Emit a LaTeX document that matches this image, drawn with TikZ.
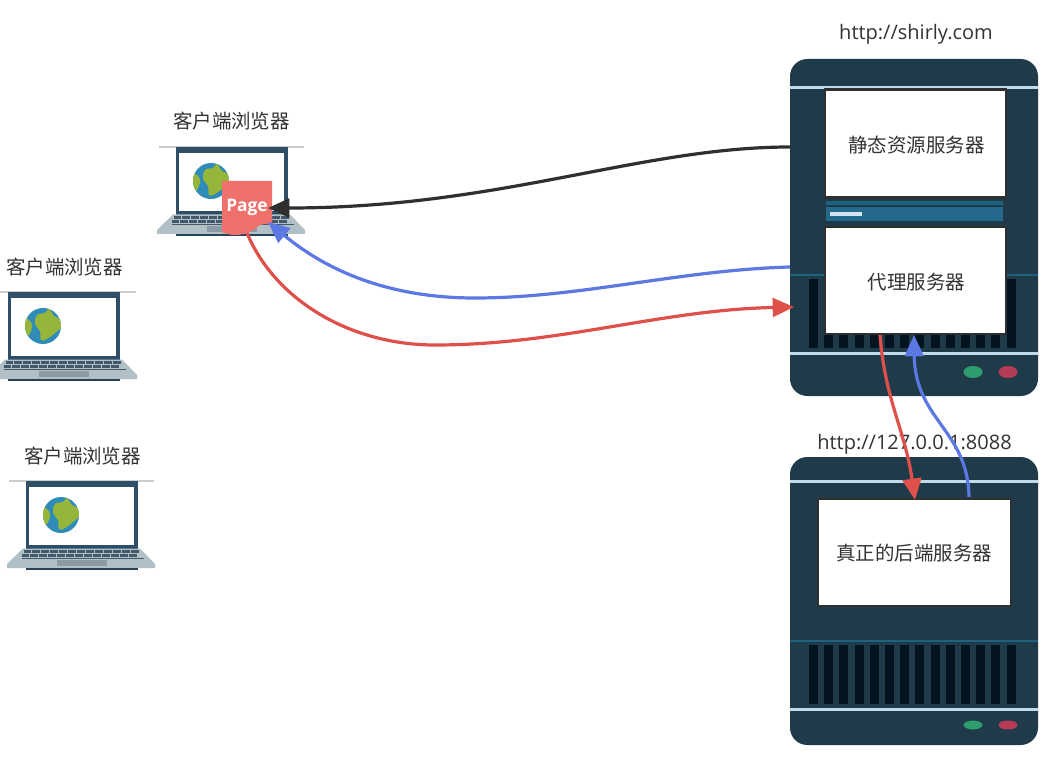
\documentclass[tikz,border=0pt]{standalone}
\usepackage{fontspec}
\setmainfont{Noto Sans CJK SC}
\newfontfamily\latinface{Open Sans}
\usetikzlibrary{arrows.meta}
\definecolor{serverbody}{HTML}{1F3A49}
\definecolor{serverrail}{HTML}{C3DAEA}
\definecolor{serverteal}{HTML}{1D6280}
\definecolor{serverband}{HTML}{24688C}
\definecolor{ventdark}{HTML}{03131F}
\definecolor{ledgreen}{HTML}{2F9E6E}
\definecolor{ledred}{HTML}{B53A58}
\definecolor{lapframe}{HTML}{2F4E68}
\definecolor{lapbase}{HTML}{B1BFC6}
\definecolor{lapkeys}{HTML}{44586A}
\definecolor{lappad}{HTML}{8C9BA3}
\definecolor{lapline}{HTML}{C9CED1}
\definecolor{globesea}{HTML}{2F8CB8}
\definecolor{globeland}{HTML}{96B53B}
\definecolor{pagefill}{HTML}{EE716C}
\definecolor{inkdark}{HTML}{2F2F2F}
\definecolor{inkblue}{HTML}{5B78E3}
\definecolor{inkred}{HTML}{E0504A}
\definecolor{labelgrey}{HTML}{333333}
\tikzset{
  labeltext/.style={text=labelgrey,font=\fontsize{14.6pt}{17pt}\selectfont,inner sep=0pt},
  urltext/.style={text=labelgrey,font=\latinface\fontsize{15pt}{17pt}\selectfont,inner sep=0pt},
  panel/.style={draw=inkdark,line width=1.6pt,fill=white,inner sep=0pt,text=labelgrey,
    font=\fontsize{14.6pt}{17pt}\selectfont,anchor=north west},
  flow/.style={line width=2.4pt,-{Triangle[length=16pt,width=14pt]}},
  laptop/.pic={
    \fill[lapline] (9,480.3) rectangle (154,481.7);
    \fill[lapframe] (26,481) rectangle (138,549);
    \fill[white] (28.5,487) rectangle (134,545);
    \fill[globesea] (61,515) circle (18);
    \begin{scope}
      \clip (61,515) circle (18);
      \fill[globeland] plot[smooth cycle,tension=0.7] coordinates {(41,507) (47,509) (50,514) (49,520) (45,526) (40,524)};
      \fill[globeland] plot[smooth cycle,tension=0.7] coordinates {(55,504) (63,502) (67,498) (72,505) (78,508) (81,514) (73,522) (65,528) (59,529) (58,520) (53,513)};
    \end{scope}
    \fill[lapbase] (23,548.5) -- (140,548.5) -- (155,564) -- (155,568) -- (7,568) -- (7,564) -- cycle;
    \fill[lapframe!85!black] (26,568) rectangle (138,569.6);
    \foreach \row/\inset in {550.2/23.5,554.2/21.5} {
      \foreach \k in {0,...,12} {
        \fill[lapkeys] ({\inset+\k*8.95},\row) rectangle ++(7.8,3.2);
      }
    }
    \fill[lapkeys] (22,558) rectangle (144,559.4);
    \fill[lappad] (57,560) rectangle (107,566);
  }
}
\begin{document}
\begin{tikzpicture}[x=0.75pt,y=-0.75pt]
\useasboundingbox (0,0) rectangle (1057,763);
\fill[white] (0,0) rectangle (1057,763);

% laptops
\pic at (150,-334) {laptop};
\pic at (-18,-189) {laptop};
\pic at (0,0) {laptop};
\node[labeltext] (browserone) at (231.5,121) {客户端浏览器};
\node[labeltext] (browsertwo) at (64.5,267) {客户端浏览器};
\node[labeltext] (browserthree) at (82.5,456) {客户端浏览器};

% page on the first laptop
\fill[pagefill] (222,181) -- (272,181) -- (272,225.5) .. controls (266,223) and (262,223) .. (256,228) .. controls (246,236) and (232,237) .. (222,232) -- cycle;
\node[text=white,font=\latinface\bfseries\fontsize{13pt}{15pt}\selectfont,inner sep=0pt] (page) at (247,207.5) {Page};

% upper server
\fill[serverbody,rounded corners=13pt] (790,59) rectangle (1038,396);
\fill[serverrail] (790,86) rectangle (1038,89.5);
\fill[serverrail] (790,352) rectangle (1038,355);
\fill[serverteal] (790,274.3) rectangle (1038,276.3);
\foreach \v in {0,...,13} {
  \fill[ventdark] ({809+\v*15.2},279) rectangle ++(9,69);
}
\fill[ledgreen] (973,372) ellipse (9.5 and 6);
\fill[ledred] (1008,372) ellipse (9.5 and 6);
\fill[serverteal] (826,201) rectangle (1003,205);
\fill[serverband] (826,207) rectangle (1003,221);
\fill[serverrail!70!white] (830,212) rectangle (862,216);
\node[panel,minimum width=135.75pt,minimum height=81pt] (static) at (824,88.5) {\hspace{1.2pt}\raisebox{0pt}[13.2pt][0pt]{静态资源服务器}};
\node[panel,minimum width=135.75pt,minimum height=80.25pt] (proxy) at (824,226.3) {\hspace{1.2pt}\raisebox{0pt}[12.5pt][0pt]{代理服务器}};

% lower server
\fill[serverbody,rounded corners=13pt] (790,457) rectangle (1038,745);
\fill[serverrail] (790,479.5) rectangle (1038,482.5);
\fill[serverrail] (790,707.5) rectangle (1038,710.5);
\fill[serverteal] (790,640.3) rectangle (1038,642.3);
\foreach \v in {0,...,13} {
  \fill[ventdark] ({809+\v*15.2},645) rectangle ++(9,59);
}
\fill[ledgreen] (973,725) ellipse (9.5 and 4.5);
\fill[ledred] (1008,725) ellipse (9.5 and 4.5);
\node[panel,minimum width=144.75pt,minimum height=80.25pt] (backend) at (816.8,498.3) {真正的后端服务器};

% addresses
\node[urltext] (addrone) at (916,34) {http://shirly.com};
\node[urltext] (addrtwo) at (914.5,444) {http://127.0.0.1:8088};

% connector ends
\coordinate (blackstart) at (790,147);
\coordinate (pagehitblack) at (268,208);
\coordinate (bluestart) at (790,267);
\coordinate (pagehitblue) at (268,222);
\coordinate (redstart) at (247,233);
\coordinate (rederd) at (794,307);
\coordinate (proxyout) at (880,335);
\coordinate (backendin) at (915,500);
\coordinate (backendout) at (969,497);
\coordinate (proxyin) at (914,335);

% connectors
\draw[flow,inkdark] (blackstart) .. controls (640,147) and (500,208) .. (pagehitblack);
\draw[flow,inkblue] (bluestart) .. controls (680,270) and (580,298) .. (475,298) .. controls (380,298) and (320,265) .. (pagehitblue);
\draw[flow,inkred] (redstart) .. controls (275,300) and (350,345) .. (435,345) .. controls (560,345) and (660,310) .. (rederd);
\draw[flow,inkred] (proxyout) .. controls (885,400) and (905,430) .. (backendin);
\draw[flow,inkblue] (backendout) .. controls (968,430) and (915,420) .. (proxyin);
\end{tikzpicture}
\end{document}
